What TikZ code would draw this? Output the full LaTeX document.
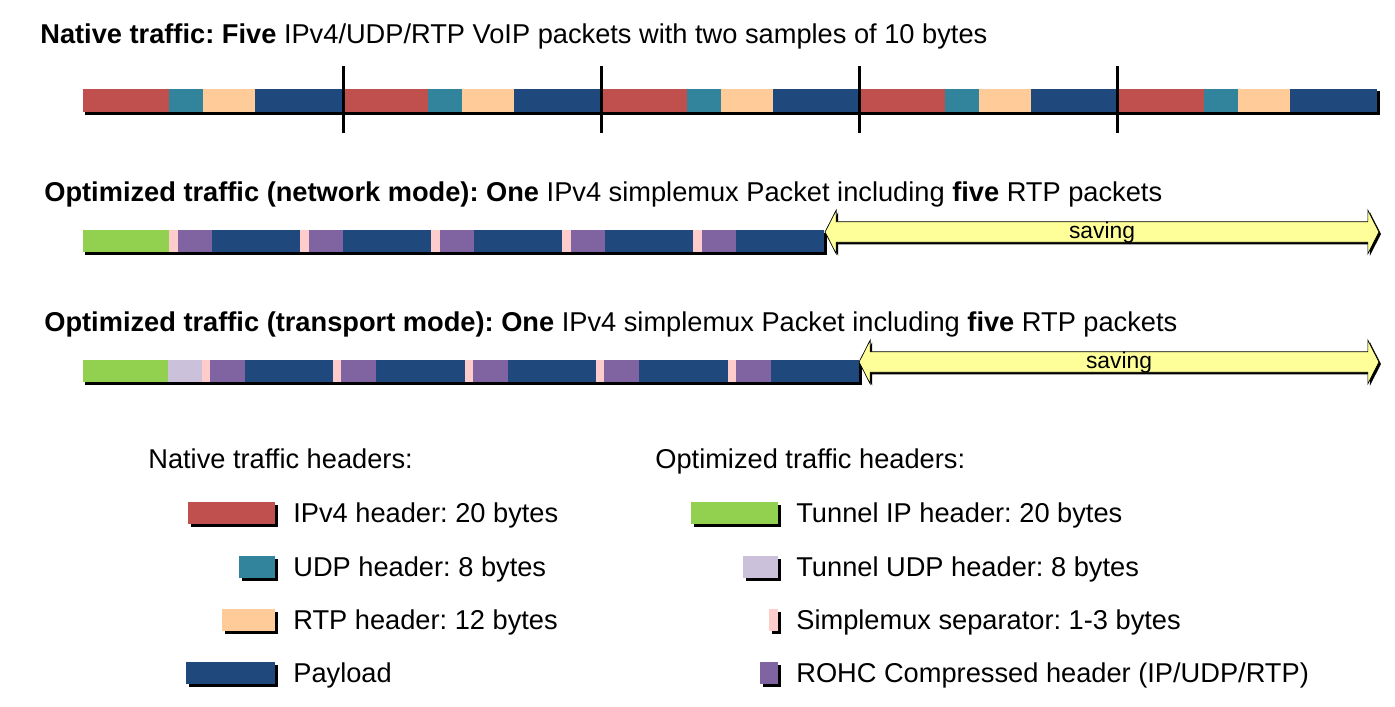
\documentclass[tikz,border=0pt]{standalone}
\usepackage{fontspec}
\setmainfont{Liberation Sans}
\usetikzlibrary{shapes.arrows,shadows}
\definecolor{ipred}{HTML}{C0504D}
\definecolor{udpteal}{HTML}{31849B}
\definecolor{rtppeach}{HTML}{FFCC99}
\definecolor{payblue}{HTML}{1F497D}
\definecolor{tungreen}{HTML}{92D050}
\definecolor{tunlav}{HTML}{CCC1DA}
\definecolor{seppink}{HTML}{FFCCCC}
\definecolor{rohcpurple}{HTML}{8064A2}
\definecolor{savyellow}{HTML}{FFFF99}
\frenchspacing

\begin{document}
\begin{tikzpicture}[x=0.02cm,y=-0.02cm,
    txt/.style={anchor=base west,inner sep=0pt,font=\fontsize{15.5}{18}\selectfont},
    gain/.style={shape=double arrow,draw=black,thin,fill=savyellow,inner sep=0pt,
        text height=9.2pt,text depth=2.1pt,font=\fontsize{13}{15}\selectfont,
        double arrow head extend=0.23cm,double arrow tip angle=126,
        drop shadow={shadow xshift=0.04cm,shadow yshift=-0.04cm,opacity=1,fill=black}}]
    \useasboundingbox (0,0) rectangle (1395,706);
    %\draw[very thin,color=gray] (0,0) grid[step=1cm] (1395,706);

    % native traffic
    \node[txt] (title1) at (40,44) {\textbf{Native traffic: Five} IPv4/UDP/RTP VoIP packets with two samples of 10 bytes};
    \fill[black] (85,91.5) rectangle (1379.5,114.5);
    \foreach \x in {83,341.8,600.6,859.4,1118.2} {
        \fill[ipred] (\x,89) rectangle ++(86,23);
        \fill[udpteal] ({\x+86},89) rectangle ++(34,23);
        \fill[rtppeach] ({\x+120},89) rectangle ++(52,23);
        \fill[payblue] ({\x+172},89) rectangle ++(86.8,23);
    }
    \foreach \x in {343,601,859,1117}
        \draw [black, line width=0.06cm] (\x,66) -- (\x,133);

    % network mode
    \node[txt] (title2) at (44,201) {\textbf{Optimized traffic (network mode): One} IPv4 simplemux Packet including \textbf{five} RTP packets};
    \fill[black] (85,232.5) rectangle (826.5,254.5);
    \fill[tungreen] (83,230) rectangle (169,252);
    \foreach \x in {169,300,431,562,693} {
        \fill[seppink] (\x,230) rectangle ++(9,22);
        \fill[rohcpurple] ({\x+9},230) rectangle ++(34,22);
        \fill[payblue] ({\x+43},230) rectangle ++(88,22);
    }
    \node[gain,minimum height=11.08cm] (gain1) at (1102,232) {saving};

    % transport mode
    \node[txt] (title3) at (44,331) {\textbf{Optimized traffic (transport mode): One} IPv4 simplemux Packet including \textbf{five} RTP packets};
    \fill[black] (85,362.5) rectangle (861.5,384.5);
    \fill[tungreen] (83,360) rectangle (168,382);
    \fill[tunlav] (168,360) rectangle (202,382);
    \foreach \x in {202,333.4,464.8,596.2,727.6} {
        \fill[seppink] (\x,360) rectangle ++(8,22);
        \fill[rohcpurple] ({\x+8},360) rectangle ++(35,22);
        \fill[payblue] ({\x+43},360) rectangle ++(88.4,22);
    }
    \node[gain,minimum height=10.4cm] (gain2) at (1119,362) {saving};

    % legend
    \node[txt] (nathead) at (148,468) {Native traffic headers:};
    \node[txt] (opthead) at (655,468) {Optimized traffic headers:};
    \foreach \l/\r/\y/\c/\t in {188/275/502/ipred/{IPv4 header: 20 bytes},
            239/275/556/udpteal/{UDP header: 8 bytes},
            222/275/609/rtppeach/{RTP header: 12 bytes},
            186/275/662/payblue/Payload,
            691/778/502/tungreen/{Tunnel IP header: 20 bytes},
            743/778/556/tunlav/{Tunnel UDP header: 8 bytes},
            769/778/609/seppink/{Simplemux separator: 1-3 bytes},
            760/778/662/rohcpurple/{ROHC Compressed header (IP/UDP/RTP)}} {
        \fill[black] ({\l+2.5},{\y+2.5}) rectangle ({\r+2.5},{\y+24.5});
        \fill[\c] (\l,\y) rectangle (\r,{\y+22});
        \node[txt] (key\y\r) at ({\r+18},{\y+20}) {\t};
    }
\end{tikzpicture}
\end{document}
